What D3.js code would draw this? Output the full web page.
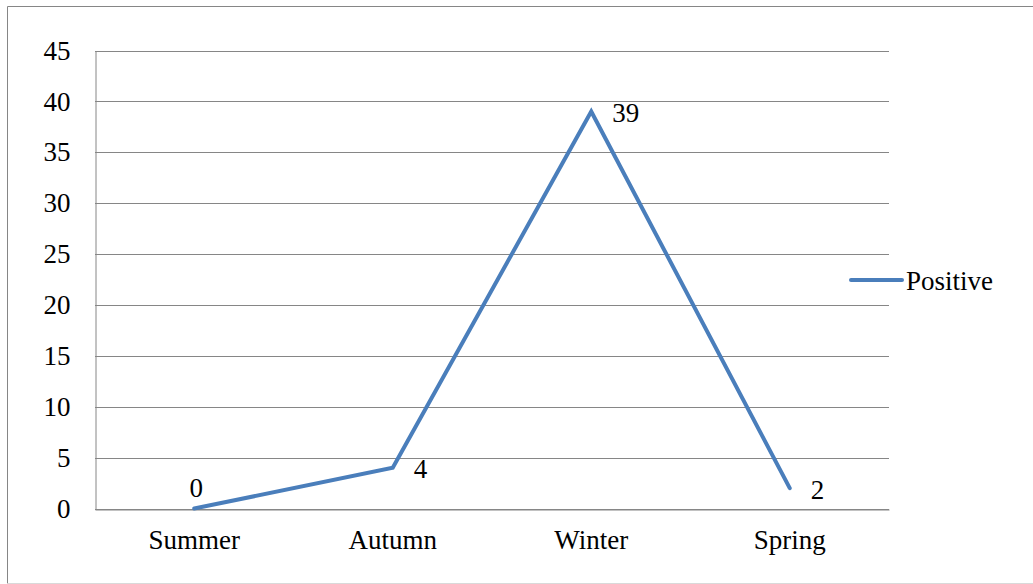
<!DOCTYPE html>
<html>
<head>
<meta charset="utf-8">
<script src="https://cdn.jsdelivr.net/npm/d3@7"></script>
<style>
  svg text { font-family: "Liberation Serif", "Times New Roman", serif !important; }
</style>
</head>
<body style="margin:0">
<svg id="chart" width="1033" height="584" style="display:block"></svg>
<script>
// Seasonal counts of positive cases
const seasons = ["Summer", "Autumn", "Winter", "Spring"];
const positive = [0, 4, 39, 2];
const yTicks = [0, 5, 10, 15, 20, 25, 30, 35, 40, 45];
const seriesName = "Positive";

const svg = d3.select("#chart");
const W = 1033, H = 584;
const plot = { left: 95, right: 889, top: 50.5, bottom: 508.5 };
const grey = "#868686";
const blue = "#4a7ebb";
const fontFamily = "Liberation Serif";
const fontSize = 27;

svg.attr("font-family", fontFamily);

const styleText = sel => sel
  .attr("font-family", fontFamily)
  .style("font-family", fontFamily, "important")
  .attr("font-size", fontSize)
  .style("font-size", fontSize + "px")
  .attr("fill", "#000");

// Chart frame
svg.append("line").attr("x1", 7.5).attr("x2", 7.5).attr("y1", 6.5).attr("y2", 583.5).attr("stroke", grey);
svg.append("line").attr("x1", 7.5).attr("x2", W).attr("y1", 6.5).attr("y2", 6.5).attr("stroke", grey);
svg.append("line").attr("x1", 7.5).attr("x2", W).attr("y1", 583.5).attr("y2", 583.5).attr("stroke", "#d9d9d9");

const x = d3.scaleBand().domain(seasons).range([plot.left, plot.right]);
const y = d3.scaleLinear().domain([0, 45]).range([plot.bottom, plot.top]);

// Horizontal gridlines
svg.append("g").selectAll("line").data(yTicks).join("line")
  .attr("x1", plot.left).attr("x2", plot.right)
  .attr("y1", d => Math.round(y(d)) + 0.5).attr("y2", d => Math.round(y(d)) + 0.5)
  .attr("stroke", grey).attr("stroke-width", 1);

// Y axis
const yAxis = svg.append("g").attr("transform", `translate(${plot.left + 0.5},0)`)
  .call(d3.axisLeft(y).tickValues(yTicks).tickSize(0).tickPadding(25).tickFormat(d3.format("d")));
yAxis.attr("font-family", fontFamily).attr("font-size", fontSize);
yAxis.select(".domain").attr("stroke", grey);
yAxis.selectAll("text").call(styleText);

// X axis
const xAxis = svg.append("g").attr("transform", `translate(0,${Math.round(y(0)) + 0.5})`)
  .call(d3.axisBottom(x).tickSize(0).tickPadding(20));
xAxis.attr("font-family", fontFamily).attr("font-size", fontSize);
xAxis.select(".domain").attr("stroke", grey);
xAxis.selectAll("text").call(styleText);

// Series line
const cx = d => x(d) + x.bandwidth() / 2;
const line = d3.line().x((d, i) => cx(seasons[i])).y(d => y(d));
svg.append("path").datum(positive)
  .attr("d", line).attr("fill", "none")
  .attr("stroke", blue).attr("stroke-width", 4)
  .attr("stroke-linejoin", "miter").attr("stroke-linecap", "round");

// Data labels: zero sits above its point, others to the right
svg.selectAll("text.value").data(positive).join("text")
  .attr("class", "value")
  .attr("x", (d, i) => d === 0 ? cx(seasons[i]) + 2 : cx(seasons[i]) + 21)
  .attr("y", (d, i) => d === 0 ? y(d) - 21 : y(d) + 1)
  .attr("dy", "0.35em")
  .attr("text-anchor", d => d === 0 ? "middle" : "start")
  .call(styleText)
  .text(d => d);

// Legend
svg.append("line").attr("x1", 851).attr("x2", 902).attr("y1", 280).attr("y2", 280)
  .attr("stroke", blue).attr("stroke-width", 4).attr("stroke-linecap", "round");
svg.append("text").attr("x", 906).attr("y", 281).attr("dy", "0.35em")
  .call(styleText).text(seriesName);
</script>
</body>
</html>
